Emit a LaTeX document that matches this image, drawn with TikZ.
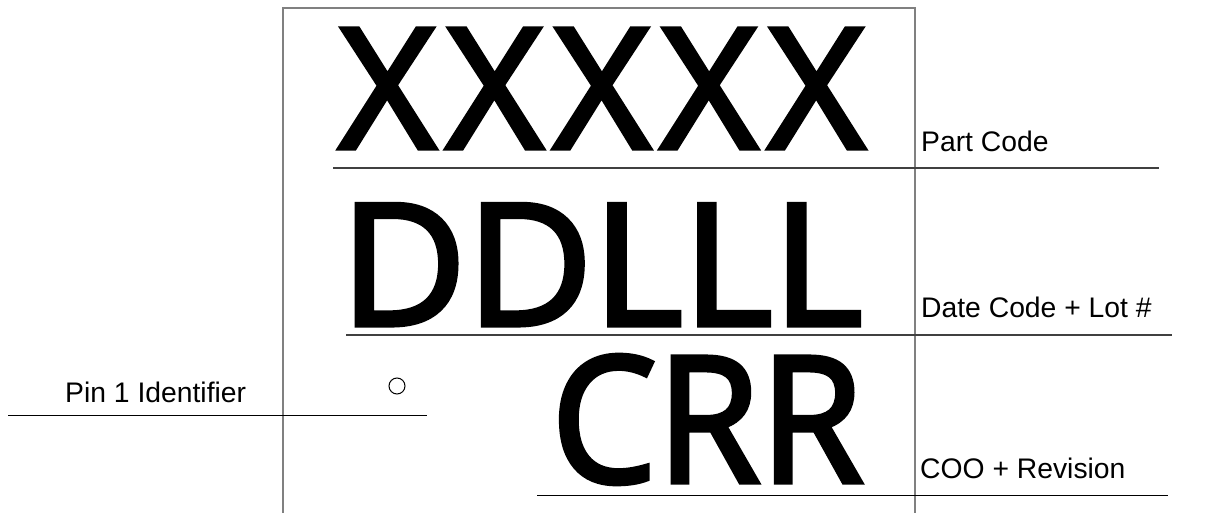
\documentclass[tikz,border=0pt]{standalone}
\usepackage{fontspec}
\setmainfont{Liberation Sans}
\newfontfamily\bigfont[FakeBold=3]{Open Sans}
\newcommand\xk{\kern10.9pt}
\begin{document}
\begin{tikzpicture}[x=1pt,y=-1pt,
  graybar/.style={draw=black!50,line width=1.6pt},
  rule/.style={draw=black!75,line width=1.4pt},
  thinrule/.style={draw=black,line width=1pt},
  lbl/.style={anchor=base west,inner sep=0pt,font=\fontsize{28.3}{32}\selectfont},
  big/.style={anchor=base west,inner sep=0pt}]
\useasboundingbox (0,0) rectangle (1224,513);
% outline
\coordinate (tl) at (283,8);
\coordinate (tr) at (915,8);
\coordinate (bl) at (283,513);
\coordinate (br) at (915,513);
\draw[graybar] (bl) -- (tl) -- (tr) -- (br);
% rules
\coordinate (r1a) at (333,168); \coordinate (r1b) at (1159,168);
\coordinate (r2a) at (346,335); \coordinate (r2b) at (1172,335);
\coordinate (r3a) at (537,495); \coordinate (r3b) at (1168,495);
\coordinate (p1a) at (8,415);   \coordinate (p1b) at (427,415);
\draw[rule] (r1a) -- (r1b);
\draw[rule] (r2a) -- (r2b);
\draw[thinrule] (r3a) -- (r3b);
\draw[thinrule] (p1a) -- (p1b);
% big text
\node[big] (xx) at (339,148) {\bigfont\fontsize{167}{167}\selectfont X\xk X\xk X\xk X\xk X};
\node[big,xscale=1.025] (dd) at (340,325) {\bigfont\fontsize{169}{169}\selectfont DDLLL};
\node[big,xscale=0.955] (cr) at (551,482) {\bigfont\fontsize{175}{175}\selectfont CRR};
% pin 1 dot
\node[draw=black,line width=1pt,circle,minimum size=16pt,inner sep=0pt] (pin) at (397,386) {};
% labels
\node[lbl] (pc) at (921,152) {Part Code};
\node[lbl] (dc) at (921,317) {Date Code + Lot \#};
\node[lbl] (coo) at (920,478) {COO + Revision};
\node[lbl] (p1) at (65,402) {Pin 1 Identifier};
\end{tikzpicture}
\end{document}
